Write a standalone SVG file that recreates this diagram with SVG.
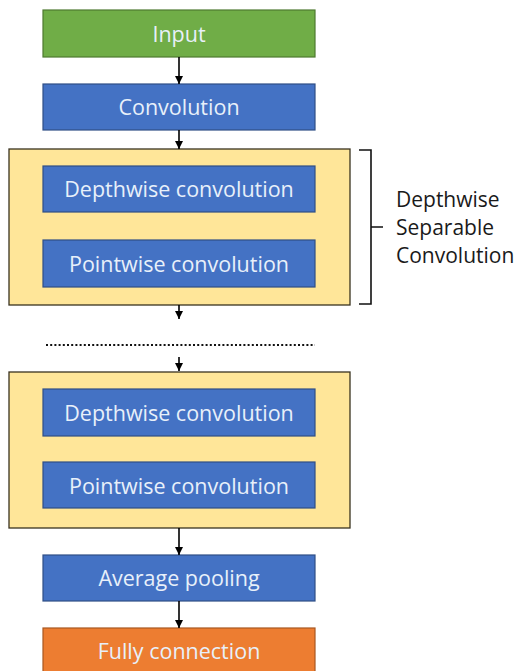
<svg xmlns="http://www.w3.org/2000/svg" width="518" height="671" viewBox="0 0 518 671">
<defs>
<style>
.lbl{font-family:"Open Sans","Liberation Sans",sans-serif;font-size:21.5px;fill:#e8f0fa;text-anchor:middle}
.side{font-family:"Open Sans","Liberation Sans",sans-serif;font-size:21px;fill:#1a1a1a}
.blue{fill:#4472c4;stroke:#2f4f86;stroke-width:1.2}
.green{fill:#70ad47;stroke:#4e7a30;stroke-width:1.2}
.orange{fill:#ed7d31;stroke:#a85720;stroke-width:1.2}
.yellow{fill:#ffe699;stroke:#3a3320;stroke-width:1.3}
.conn{stroke:#000;stroke-width:1.6;fill:none;marker-end:url(#ah)}
</style>
<marker id="ah" viewBox="0 0 10 10" refX="10" refY="5" markerWidth="5" markerHeight="5" markerUnits="strokeWidth" orient="auto">
<path d="M0,0 L10,5 L0,10 z" fill="#000"/>
</marker>
</defs>
<rect width="518" height="671" fill="#fff"/>
<g id="block1"><rect class="yellow" x="9" y="149" width="341" height="156"/></g>
<g id="block2"><rect class="yellow" x="9" y="372" width="341" height="156"/></g>
<g id="input"><rect class="green" x="43" y="10" width="272" height="47"/><text class="lbl" x="179" y="41.5">Input</text></g>
<g id="conv"><rect class="blue" x="43" y="84" width="272" height="46"/><text class="lbl" x="179" y="115">Convolution</text></g>
<g id="dw1"><rect class="blue" x="43" y="166" width="272" height="46"/><text class="lbl" x="179" y="197">Depthwise convolution</text></g>
<g id="pw1"><rect class="blue" x="43" y="240" width="272" height="47"/><text class="lbl" x="179" y="271.5">Pointwise convolution</text></g>
<g id="dw2"><rect class="blue" x="43" y="389" width="272" height="47"/><text class="lbl" x="179" y="420.5">Depthwise convolution</text></g>
<g id="pw2"><rect class="blue" x="43" y="462" width="272" height="46"/><text class="lbl" x="179" y="493.5">Pointwise convolution</text></g>
<g id="avgpool"><rect class="blue" x="43" y="555" width="272" height="46"/><text class="lbl" x="179" y="586">Average pooling</text></g>
<g id="fc"><rect class="orange" x="43" y="628" width="272" height="47"/><text class="lbl" x="179" y="659">Fully connection</text></g>
<g id="dots"><line x1="46" y1="345" x2="315" y2="345" stroke="#111" stroke-width="2" stroke-dasharray="2,2.2"/></g>
<g id="brace">
<path d="M359,150 H371 V304 H359 M371,227 H383" fill="none" stroke="#111" stroke-width="1.6"/>
<text class="side" x="396" y="207">Depthwise</text>
<text class="side" x="396" y="235">Separable</text>
<text class="side" x="396" y="263">Convolution</text>
</g>
<g id="connectors">
<line class="conn" x1="179" y1="57" x2="179" y2="84"/>
<line class="conn" x1="179" y1="130" x2="179" y2="149"/>
<line class="conn" x1="179" y1="305" x2="179" y2="319"/>
<line class="conn" x1="179" y1="357" x2="179" y2="371"/>
<line class="conn" x1="179" y1="528" x2="179" y2="555"/>
<line class="conn" x1="179" y1="601" x2="179" y2="628"/>
</g>
</svg>
